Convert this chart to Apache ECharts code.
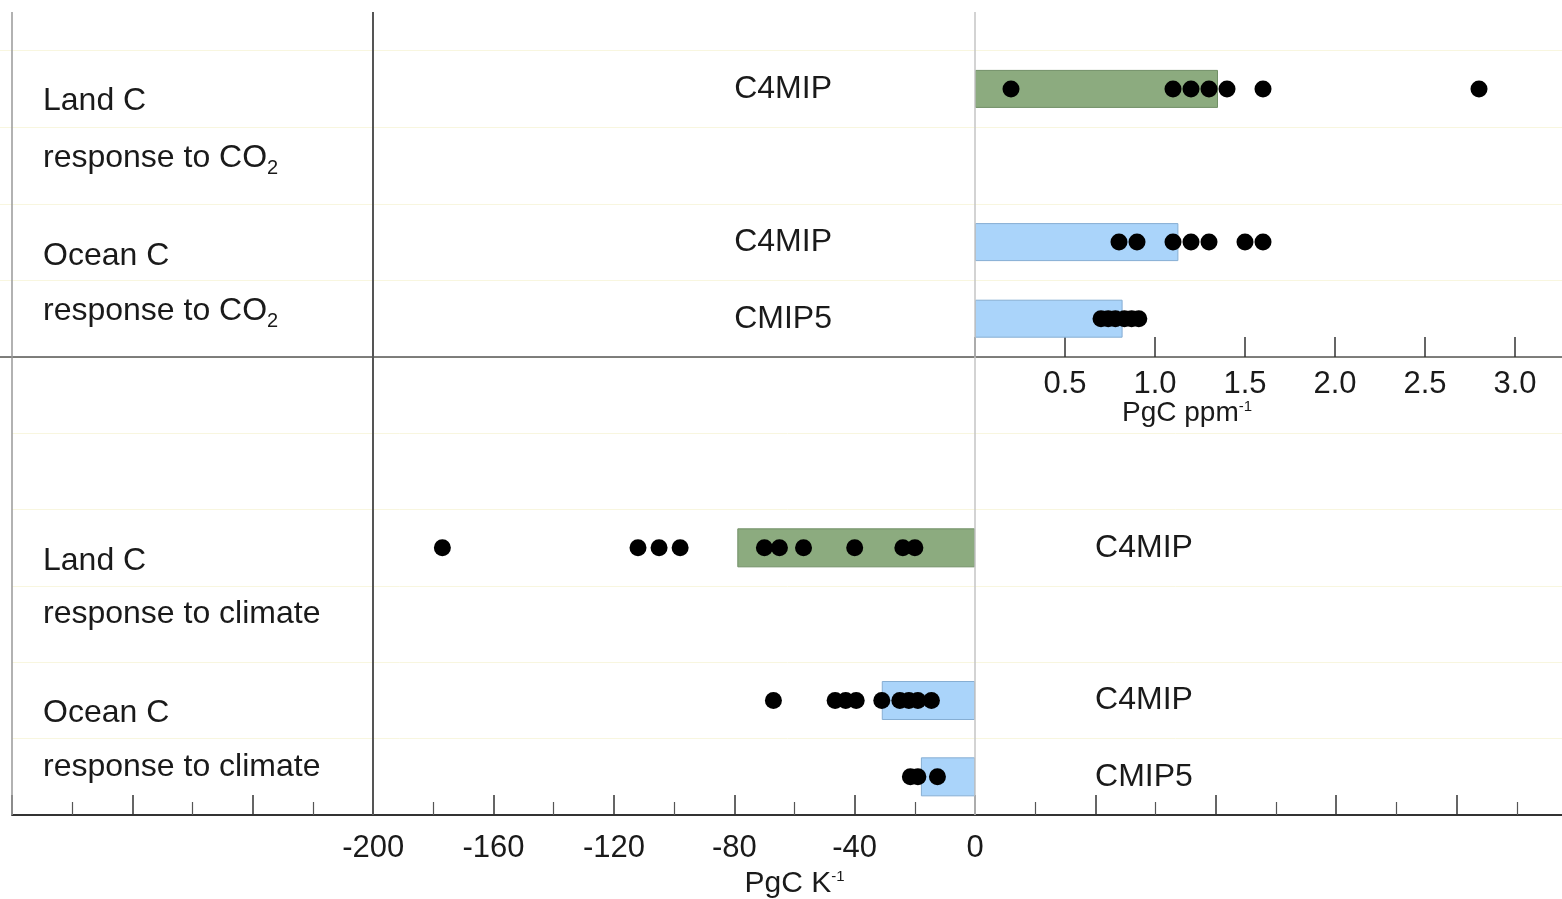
<!DOCTYPE html>
<html style="height: 100%">

<head>
    <meta charset="utf-8">
</head>

<body style="height: 100%; margin: 0; background: #fff">
    <div id="container" style="width: 1562px; height: 899px"></div>

    <script src="https://cdn.jsdelivr.net/npm/echarts@6/dist/echarts.min.js"></script>

    <script type="text/javascript">
        // carbon response to CO2 (PgC ppm-1)
        var co2Rows = ['', 'Land C4MIP', ' ', 'Ocean C4MIP', 'Ocean CMIP5'];
        var co2Models = ['C4MIP', 'C4MIP', 'CMIP5'];
        var co2Bars = [1.35, 1.13, 0.82];
        var co2LandC4MIP = [0.2, 1.1, 1.2, 1.3, 1.4, 1.6, 2.8];
        var co2OceanC4MIP = [0.8, 0.9, 1.1, 1.2, 1.3, 1.5, 1.6];
        var co2OceanCMIP5 = [0.7, 0.74, 0.78, 0.83, 0.87, 0.91];
        var co2Ticks = [0.5, 1.0, 1.5, 2.0, 2.5, 3.0];

        // carbon response to climate (PgC K-1)
        var climRows = ['', ' ', 'Land C4MIP', '  ', 'Ocean C4MIP', 'Ocean CMIP5'];
        var climModels = ['C4MIP', 'C4MIP', 'CMIP5'];
        var climBars = [-79, -31, -18];
        var climLandC4MIP = [-177, -112, -105, -98, -70, -65, -57, -40, -24, -20];
        var climOceanC4MIP = [-67, -46.5, -43, -39.5, -31, -25, -22, -19, -14.5];
        var climOceanCMIP5 = [-21.5, -19, -12.5];
        var climTicks = [-200, -160, -120, -80, -40, 0];

        var font = 'Liberation Sans, Arial, sans-serif';
        var txt = '#1a1a1a';
        var green = '#8cab7f';
        var blue = '#aad4fa';

        var dom = document.getElementById('container');
        var myChart = echarts.init(dom);

        // bars only on the named rows
        function barData(rows, vals, models) {
            var out = [];
            var k = 0;
            rows.forEach(function (r) {
                if (r.trim() === '') {
                    out.push('-');
                    return;
                }
                var land = r.indexOf('Land') === 0;
                out.push({
                    value: vals[k],
                    model: models[k],
                    itemStyle: {
                        color: land ? green : blue,
                        borderColor: land ? '#708f66' : '#86aed3'
                    }
                });
                k++;
            });
            return out;
        }

        function dots(rows, name, vals) {
            var idx = rows.indexOf(name);
            return vals.map(function (v) { return [v, idx]; });
        }

        var supRich = {
            sup: { fontSize: 15, fontFamily: font, color: txt, verticalAlign: 'top', lineHeight: 14 }
        };
        var subRich = {
            n: { fontSize: 32, fontFamily: font, color: txt, lineHeight: 40 },
            sub: { fontSize: 20, fontFamily: font, color: txt, verticalAlign: 'bottom', lineHeight: 22 }
        };

        function sideText(x, y, s) {
            return {
                type: 'text', left: x, top: y, z: 10,
                style: { text: s, rich: subRich, font: '32px ' + font, fill: txt }
            };
        }

        var dotStyle = { color: '#000', opacity: 1 };

        option = {
            animation: false,
            backgroundColor: '#fff',
            textStyle: { fontFamily: font },
            grid: [
                { left: -15, right: -43, top: -26, bottom: 542, outerBoundsMode: 'none' },
                { left: 12, right: -15, top: 357, bottom: 84, outerBoundsMode: 'none' },
                { left: 12, right: -15, top: 12, bottom: 84, outerBoundsMode: 'none' }
            ],
            xAxis: [
                {
                    gridIndex: 0, type: 'value', min: -5.5, max: 3.5,
                    axisLine: { show: true, onZero: false, lineStyle: { color: '#555', width: 1.5 } },
                    axisTick: {
                        show: true, inside: true, length: 20,
                        customValues: [0].concat(co2Ticks),
                        lineStyle: { color: '#333', width: 1.5 }
                    },
                    axisLabel: {
                        customValues: co2Ticks, fontSize: 31, margin: 12, color: txt,
                        formatter: function (v) { return v.toFixed(1); }
                    },
                    splitLine: { show: false }
                },
                {
                    gridIndex: 1, type: 'value', min: -320, max: 200, interval: 40,
                    axisLine: { show: true, onZero: false, lineStyle: { color: '#333', width: 2 } },
                    axisTick: { show: true, inside: true, length: 20, lineStyle: { color: '#333', width: 1.5 } },
                    minorTick: { show: true, splitNumber: 2, length: 13, lineStyle: { color: '#555', width: 1.2 } },
                    axisLabel: { customValues: climTicks, fontSize: 31, margin: 18, color: txt },
                    splitLine: { show: false },
                    name: 'PgC K{sup|-1}',
                    nameLocation: 'middle',
                    nameGap: 52,
                    nameTextStyle: { fontSize: 30, color: txt, rich: supRich }
                },
                { gridIndex: 2, type: 'value', min: -320, max: 200, show: false }
            ],
            yAxis: [
                {
                    gridIndex: 0, type: 'category', inverse: true, data: co2Rows,
                    axisLine: { show: false }, axisTick: { show: false }, axisLabel: { show: false },
                    splitLine: { show: true, lineStyle: { color: '#f8f6df', width: 1 } }
                },
                {
                    gridIndex: 1, type: 'category', inverse: true, data: climRows,
                    axisLine: { show: false }, axisTick: { show: false }, axisLabel: { show: false },
                    splitLine: { show: true, lineStyle: { color: '#f8f6df', width: 1 } }
                },
                { gridIndex: 2, type: 'value', min: 0, max: 1, show: false }
            ],
            series: [
                {
                    type: 'line', xAxisIndex: 2, yAxisIndex: 2, data: [], silent: true, z: 1,
                    markLine: {
                        silent: true, symbol: ['none', 'none'], label: { show: false },
                        data: [
                            { xAxis: -320, lineStyle: { color: '#999', width: 1.5, type: 'solid' } },
                            { xAxis: -200, lineStyle: { color: '#555', width: 2, type: 'solid' } },
                            { xAxis: 0, lineStyle: { color: '#c4c4c4', width: 1.5, type: 'solid' } }
                        ]
                    }
                },
                {
                    type: 'bar', xAxisIndex: 0, yAxisIndex: 0, z: 2,
                    barWidth: 38,
                    data: barData(co2Rows, co2Bars, co2Models),
                    itemStyle: { borderWidth: 1 },
                    label: {
                        show: true, position: 'left', distance: 143,
                        fontSize: 32, color: txt,
                        formatter: function (p) { return p.data.model; }
                    }
                },
                {
                    type: 'bar', xAxisIndex: 1, yAxisIndex: 1, z: 2,
                    barWidth: 39,
                    data: barData(climRows, climBars, climModels),
                    itemStyle: { borderWidth: 1 },
                    label: {
                        show: true, position: 'right', distance: 120,
                        fontSize: 32, color: txt,
                        formatter: function (p) { return p.data.model; }
                    }
                },
                {
                    type: 'scatter', xAxisIndex: 0, yAxisIndex: 0, z: 3, symbolSize: 17, itemStyle: dotStyle,
                    data: dots(co2Rows, 'Land C4MIP', co2LandC4MIP)
                        .concat(dots(co2Rows, 'Ocean C4MIP', co2OceanC4MIP))
                        .concat(dots(co2Rows, 'Ocean CMIP5', co2OceanCMIP5))
                },
                {
                    type: 'scatter', xAxisIndex: 1, yAxisIndex: 1, z: 3, symbolSize: 17, itemStyle: dotStyle,
                    data: dots(climRows, 'Land C4MIP', climLandC4MIP)
                        .concat(dots(climRows, 'Ocean C4MIP', climOceanC4MIP))
                        .concat(dots(climRows, 'Ocean CMIP5', climOceanCMIP5))
                }
            ],
            graphic: [
                sideText(43, 85, '{n|Land C}'),
                sideText(43, 142, '{n|response to CO}{sub|2}'),
                sideText(43, 240, '{n|Ocean C}'),
                sideText(43, 295, '{n|response to CO}{sub|2}'),
                sideText(43, 545, '{n|Land C}'),
                sideText(43, 598, '{n|response to climate}'),
                sideText(43, 697, '{n|Ocean C}'),
                sideText(43, 751, '{n|response to climate}'),
                {
                    type: 'text', left: 1122, top: 399,
                    style: { text: 'PgC ppm{sup|-1}', rich: supRich, font: '28px ' + font, fill: txt }
                }
            ]
        };

        myChart.setOption(option);
    </script>
</body>

</html>
